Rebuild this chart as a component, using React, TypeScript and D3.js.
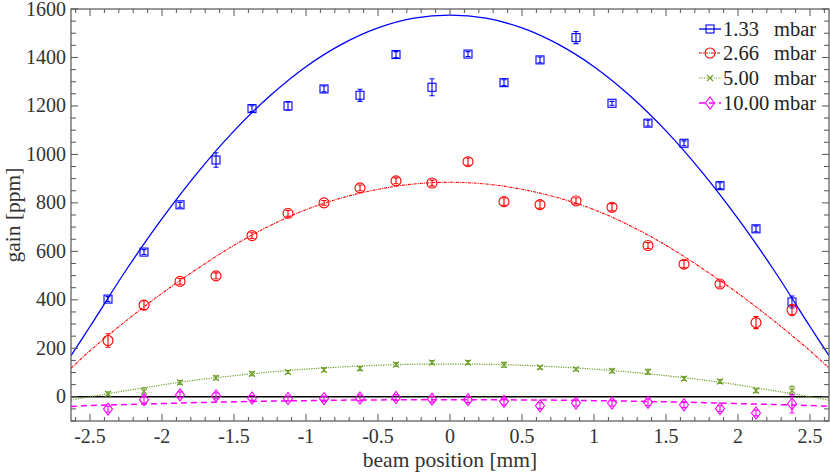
import React, { useEffect, useState } from "react";
import * as d3 from "d3";

// beam positions [mm]
const positions = [-2.375, -2.125, -1.875, -1.625, -1.375, -1.125, -0.875, -0.625, -0.375, -0.125,
  0.125, 0.375, 0.625, 0.875, 1.125, 1.375, 1.625, 1.875, 2.125, 2.375];

const gain133 = [403, 597, 792, 977, 1189, 1200, 1270, 1244, 1412, 1277, 1414, 1296, 1390, 1482, 1211, 1129, 1046, 871, 693, 391];
const err133 = [10, 10, 10, 30, 12, 18, 12, 25, 12, 35, 10, 12, 12, 25, 8, 12, 10, 12, 12, 25];

const gain266 = [232, 378, 476, 499, 665, 757, 800, 862, 891, 882, 970, 805, 793, 808, 782, 624, 547, 465, 306, 358];
const err266 = [28, 18, 12, 12, 12, 12, 10, 12, 12, 12, 15, 15, 15, 12, 15, 12, 15, 12, 25, 22];

const gain500 = [12, 22, 59, 78, 95, 102, 111, 117, 133, 141, 141, 132, 121, 114, 107, 103, 75, 63, 25, 25];
const err500 = [8, 15, 8, 8, 8, 6, 8, 8, 8, 8, 8, 10, 6, 6, 8, 10, 8, 8, 8, 18];

const gain1000 = [-51, -12, 8, 4, -5, -7, -8, -5, -3, -10, -12, -19, -37, -26, -26, -23, -33, -49, -67, -29];
const err1000 = [12, 14, 12, 12, 10, 10, 10, 12, 12, 12, 12, 14, 12, 12, 12, 14, 12, 12, 12, 38];

// fitted curves, read at these positions
const fitX = [-2.632, -2.5, -2.25, -2, -1.75, -1.5, -1.25, -1, -0.75, -0.5, -0.25, 0,
  0.25, 0.5, 0.75, 1, 1.25, 1.5, 1.75, 2, 2.25, 2.5, 2.632];
const fit133 = [170, 290, 522, 735, 927, 1097, 1242, 1362, 1455, 1522, 1562, 1575,
  1562, 1522, 1455, 1362, 1242, 1097, 927, 735, 522, 290, 170];
const fit266 = [118, 190, 313, 427, 530, 625, 706, 772, 821, 856, 878, 885,
  878, 856, 821, 772, 706, 625, 530, 427, 313, 190, 118];
const fit500 = [-14, 0, 25, 49, 70, 87, 102, 114, 123, 130, 134, 135,
  134, 130, 123, 114, 102, 87, 70, 49, 25, 0, -14];
const fit1000 = [-40, -36, -32, -28, -24, -21, -18, -16, -14, -13, -12, -12,
  -12, -13, -14, -16, -18, -21, -24, -28, -32, -36, -40];

const legendLabels = ["1.33", "2.66", "5.00", "10.00"];
const xTicks = [-2.5, -2, -1.5, -1, -0.5, 0, 0.5, 1, 1.5, 2, 2.5];
const yTicks = [0, 200, 400, 600, 800, 1000, 1200, 1400, 1600];

const W = 830, H = 475;
const L = 71, R = 829, T = 9, B = 421;
const FONT = '"Liberation Serif", "DejaVu Serif", "Times New Roman", serif';

const x = d3.scaleLinear().domain([-2.632, 2.632]).range([L, R]);
const y = d3.scaleLinear().domain([-100, 1600]).range([B, T]);

type Series = {
  vals: number[]; errs: number[]; fit: number[]; color: string; dash: string; width: number; marker: string;
};
const series: Series[] = [
  { vals: gain133, errs: err133, fit: fit133, color: "#0000ff", dash: "", width: 1.3, marker: "square" },
  { vals: gain266, errs: err266, fit: fit266, color: "#ff0000", dash: "3,1,1,1", width: 1.1, marker: "circle" },
  { vals: gain500, errs: err500, fit: fit500, color: "#6f9f2a", dash: "1.2,1.2", width: 1.2, marker: "x" },
  { vals: gain1000, errs: err1000, fit: fit1000, color: "#ff00ff", dash: "6,4", width: 1.5, marker: "diamond" },
];

function Marker({ kind, cx, cy, color }: { kind: string; cx: number; cy: number; color: string }) {
  const sw = 1.1;
  if (kind === "square") return <rect x={cx - 4} y={cy - 4} width={8} height={8} fill="none" stroke={color} strokeWidth={sw} />;
  if (kind === "circle") return <circle cx={cx} cy={cy} r={5} fill="none" stroke={color} strokeWidth={sw} />;
  if (kind === "x") return <path d={`M${cx - 3},${cy - 3}L${cx + 3},${cy + 3}M${cx - 3},${cy + 3}L${cx + 3},${cy - 3}`} stroke={color} strokeWidth={sw} />;
  return <path d={`M${cx},${cy - 6}L${cx + 4.5},${cy}L${cx},${cy + 6}L${cx - 4.5},${cy}Z`} fill="none" stroke={color} strokeWidth={sw} />;
}

function Txt(props: any) {
  const { children, ...rest } = props;
  return <text style={{ fontFamily: FONT }} {...rest}>{children}</text>;
}

export default function App() {
  const [ver, setVer] = useState(0);
  useEffect(() => {
    const fonts: any = (document as any).fonts;
    if (fonts && fonts.load) {
      fonts.load('20px "Liberation Serif"').then(() => setVer((v) => v + 1)).catch(() => {});
    }
    const id = setTimeout(() => setVer((v) => v + 1), 60);
    return () => clearTimeout(id);
  }, []);
  const line = d3.line<number>().x((_, i) => x(fitX[i])).y((v) => y(v)).curve(d3.curveCatmullRom);
  const xMinor = d3.range(-26, 27).map((i) => i / 10);
  const yMinor = d3.range(-2, 33).map((i) => i * 50);
  const frame = "#555";
  const legY = [29, 53, 78, 103];
  return (
    <svg width={W} height={H} style={{ position: "absolute", left: 0, top: 0 }}>
      <rect width={W} height={H} fill="#fff" />
      <defs>
        <clipPath id="plot"><rect x={L} y={T} width={R - L} height={B - T} /></clipPath>
      </defs>
      <line x1={L} x2={R} y1={y(0)} y2={y(0)} stroke="#000" strokeWidth={1.4} />
      <g clipPath="url(#plot)">
        {series.map((s, si) => (
          <path key={si} d={line(s.fit) || ""} fill="none" stroke={s.color} strokeWidth={s.width} strokeDasharray={s.dash || undefined} />
        ))}
      </g>
      {series.map((s, si) => (
        <g key={si}>
          {s.vals.map((v, i) => {
            const cx = x(positions[i]);
            const y1 = y(v - s.errs[i]);
            const y2 = y(v + s.errs[i]);
            return (
              <g key={i}>
                <path d={`M${cx},${y1}L${cx},${y2}M${cx - 2.5},${y1}L${cx + 2.5},${y1}M${cx - 2.5},${y2}L${cx + 2.5},${y2}`} stroke={s.color} strokeWidth={1.1} fill="none" />
                <Marker kind={s.marker} cx={cx} cy={y(v)} color={s.color} />
              </g>
            );
          })}
        </g>
      ))}
      <rect x={L} y={T} width={R - L} height={B - T} fill="none" stroke={frame} strokeWidth={1.2} />
      {xMinor.map((t, i) => {
        const major = Math.abs(t * 2 - Math.round(t * 2)) < 1e-6;
        const len = major ? 7 : 4;
        return (
          <g key={i} stroke={frame} strokeWidth={1}>
            <line x1={x(t)} x2={x(t)} y1={B} y2={B - len} />
            <line x1={x(t)} x2={x(t)} y1={T} y2={T + len} />
          </g>
        );
      })}
      {yMinor.map((t, i) => {
        const major = t % 200 === 0;
        const len = major ? 7 : 5;
        return (
          <g key={i} stroke={frame} strokeWidth={1}>
            <line x1={L} x2={L + len} y1={y(t)} y2={y(t)} />
            <line x1={R} x2={R - len} y1={y(t)} y2={y(t)} />
          </g>
        );
      })}
      <g key={"txt" + ver}>
        {xTicks.map((t) => (
          <Txt key={t} x={x(t)} y={443} textAnchor="middle" fontSize={20} fill="#333">{t}</Txt>
        ))}
        {yTicks.map((t) => (
          <Txt key={t} x={66} y={y(t) + 6.5} textAnchor="end" fontSize={20} fill="#333">{t}</Txt>
        ))}
        <Txt x={(L + R) / 2} y={467} textAnchor="middle" fontSize={21.5} fill="#333">beam position [mm]</Txt>
        <Txt transform={`translate(20,${(T + B) / 2}) rotate(-90)`} textAnchor="middle" fontSize={21.5} fill="#333">gain [ppm]</Txt>
        {series.map((s, i) => (
          <g key={i}>
            <line x1={699} x2={721} y1={legY[i]} y2={legY[i]} stroke={s.color} strokeWidth={s.width} strokeDasharray={s.dash || undefined} />
            <Marker kind={s.marker} cx={710} cy={legY[i]} color={s.color} />
            <Txt x={723} y={legY[i] + 6.5} fontSize={20.5} fill="#222">{legendLabels[i]}</Txt>
            <Txt x={774} y={legY[i] + 6.5} fontSize={20.5} fill="#222">mbar</Txt>
          </g>
        ))}
      </g>
    </svg>
  );
}
